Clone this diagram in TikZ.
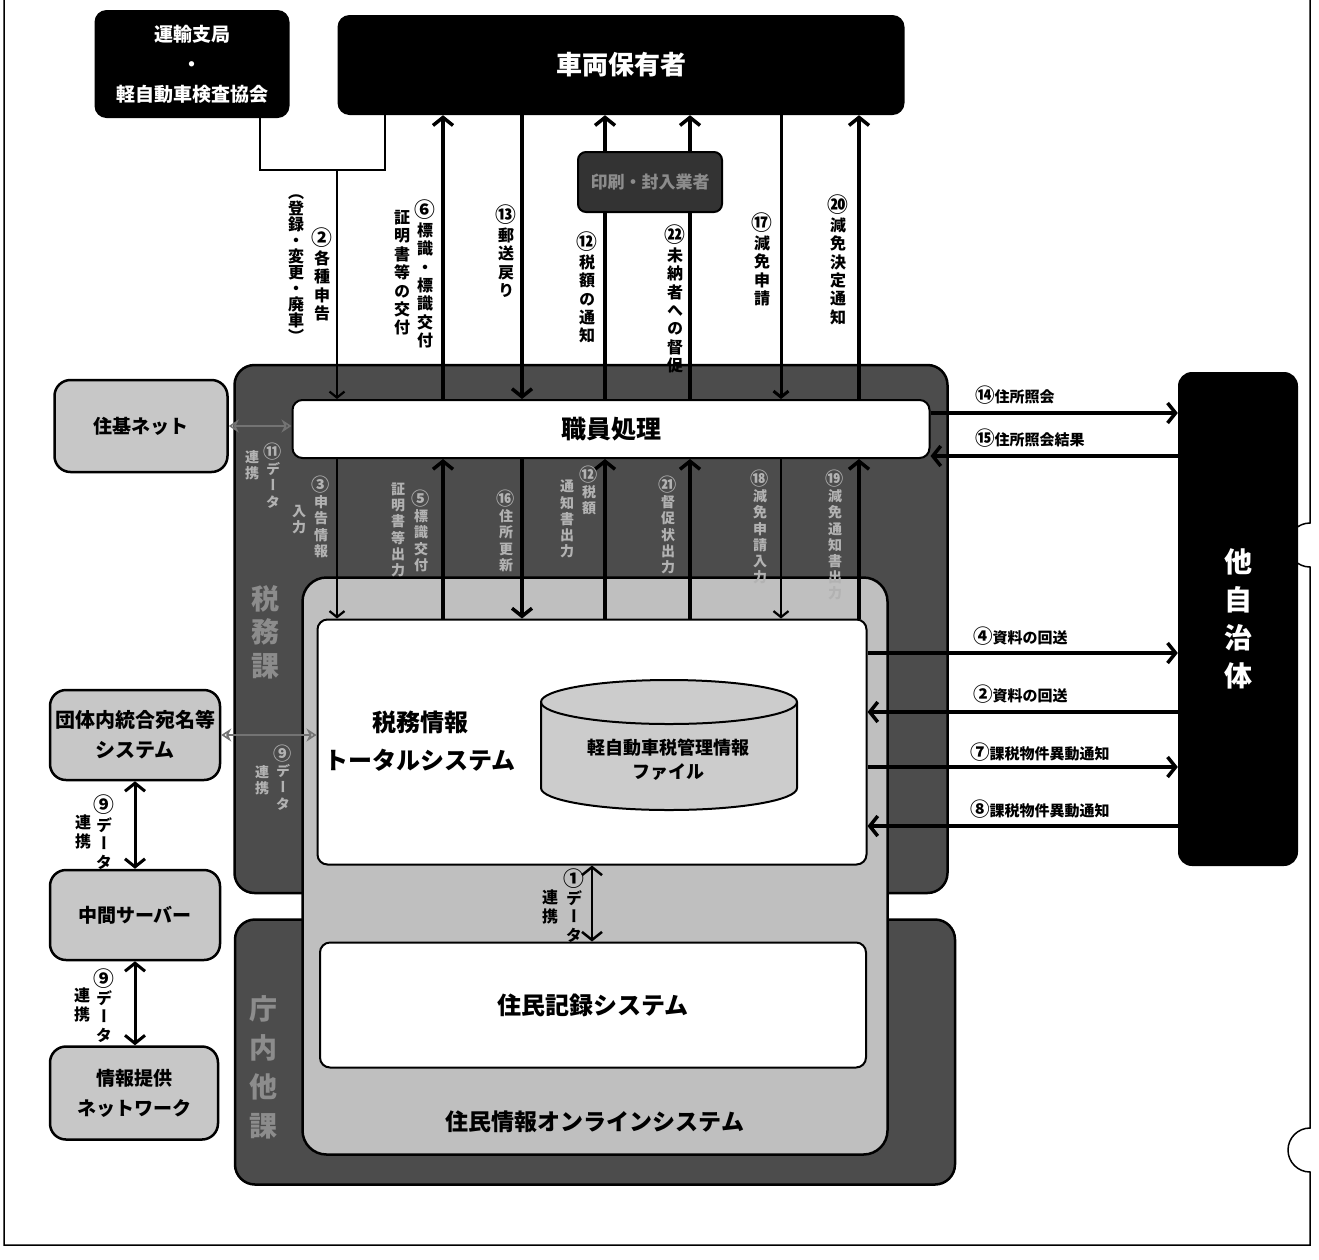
\documentclass[tikz,border=0pt]{standalone}
\usepackage{fontspec}
\setmainfont{Noto Sans CJK JP}
\newfontfamily\jpv{Noto Sans CJK JP}[RawFeature=+vert]
\usetikzlibrary{arrows.meta}

\newcommand\sz[2]{\fontsize{#1}{#2}\selectfont}
\newcommand\cn[1]{\scalebox{1.3}{#1}}
\makeatletter
\newcommand\tate[2][1.15em]{\vtop{\jpv\baselineskip=#1\relax\lineskiplimit=-\maxdimen\tate@#2\@nil}}
\def\tate@#1{\ifx#1\@nil\else\hbox to 1em{\hss#1\hss}\expandafter\tate@\fi}
\makeatother

\begin{document}
\begin{tikzpicture}[x=1pt, y=-1pt, >={Straight Barb[length=8pt,width=20pt]},
  blk/.style={fill=black, rounded corners=12pt, text=white, inner sep=0pt},
  lbox/.style={draw, line width=2.5pt, fill=black!22, rounded corners=16pt, inner sep=0pt},
  panel/.style={draw, line width=2.5pt, fill=black!70, rounded corners=20pt},
  wbox/.style={draw, line width=2pt, fill=white, rounded corners=10pt, inner sep=0pt},
  flow/.style={line width=3.5pt, ->},
  tflow/.style={line width=2.2pt, -{Straight Barb[length=6pt,width=15pt]}},
  link/.style={line width=3pt, <->},
  dlink/.style={line width=1.6pt, draw=black!55, {Stealth[open,length=10pt,width=13pt]}-{Stealth[open,length=10pt,width=13pt]}},
  vlbl/.style={font=\bfseries\sz{16}{18}, anchor=north, inner sep=0pt},
  dlbl/.style={font=\bfseries\sz{14}{16}, anchor=north, inner sep=0pt, text=black!30},
  hlbl/.style={font=\bfseries\sz{15}{18}, anchor=west, inner sep=0pt}]

\useasboundingbox (0,0) rectangle (1319,1259);
\fill[white] (0,0) rectangle (1319,1259);
\draw[line width=1.5pt] (4,0) -- (4,1245) -- (1310,1245) -- (1310,1172) arc[start angle=270, end angle=90, radius=22pt] -- (1310,567) arc[start angle=270, end angle=90, radius=22pt] -- (1310,0); %frame

% outside
\node[blk, minimum width=195, minimum height=108, font=\bfseries\sz{19}{30}, align=center] (unyu) at (192,64) {運輸支局\\・\\軽自動車検査協会};
\node[blk, minimum width=567, minimum height=100, font=\bfseries\sz{26}{30}] (hoyu) at (621,65) {車両保有者};
\node[blk, minimum width=120, minimum height=494, rounded corners=14pt, font=\bfseries\sz{28}{32}] (tajichi) at (1238,619) {\tate[1.35em]{他自治体}};

\node[lbox, minimum width=173, minimum height=92, font=\bfseries\sz{19}{24}] (jukinet) at (141,426) {住基ネット};
\node[lbox, minimum width=170, minimum height=90, align=center, font=\bfseries\sz{20}{30}] (dantai) at (135,735) {団体内統合宛名等\\システム};
\node[lbox, minimum width=170, minimum height=90, font=\bfseries\sz{19}{24}] (chukan) at (135,915) {中間サーバー};
\node[lbox, minimum width=168, minimum height=93, align=center, font=\bfseries\sz{19}{30}] (joho) at (134,1093) {情報提供\\ネットワーク};

% panels
\node[panel, minimum width=713, minimum height=528] (zeimu) at (591,629) {};
\node[panel, minimum width=720, minimum height=265] (chonai) at (595,1052) {};
\node[draw, line width=2.5pt, fill=black!25, rounded corners=24pt, minimum width=585, minimum height=577] (online) at (595,866) {};
\node[font=\bfseries\sz{23}{26}] (onlinelbl) at (595,1122) {住民情報オンラインシステム};
\node[font=\bfseries\sz{28}{32}, text=black!45, anchor=north, inner sep=0pt] (zeimulbl) at (265,585) {\tate[1.2em]{税務課}};
\node[font=\bfseries\sz{28}{32}, text=black!45, anchor=north, inner sep=0pt] (chonailbl) at (263,995) {\tate[1.4em]{庁内他課}};

\node[wbox, minimum width=637, minimum height=58, font=\bfseries\sz{25}{28}] (shokuin) at (611,429) {職員処理};
\node[wbox, minimum width=549, minimum height=245] (total) at (592,742) {};
\node[font=\bfseries\sz{24}{38}, align=center] (totallbl) at (420,741) {税務情報\\トータルシステム};
\node[wbox, minimum width=546, minimum height=125, font=\bfseries\sz{24}{28}] (jumin) at (593,1005) {住民記録システム};

% file
\filldraw[fill=black!20, line width=2pt] (541,702) -- (541,788) arc[start angle=180, end angle=360, x radius=128pt, y radius=22pt] -- (797,702) arc[start angle=0, end angle=180, x radius=128pt, y radius=22pt] -- cycle;
\draw[line width=2pt] (541,702) arc[start angle=180, end angle=360, x radius=128pt, y radius=22pt];
\node[font=\bfseries\sz{18}{24}, align=center] (dbfile) at (668,760) {軽自動車税管理情報\\ファイル};

% columns and rows
\foreach \n/\x in {k3/337, k6/443, k13/522, k12/605, k22/690, k17/781, k20/859} \coordinate (\n) at (\x,0);
\foreach \n/\y in {r14/413, r15/456, r4/653, r2/712, r7/767, r8/826} \coordinate (\n) at (0,\y);
\coordinate (bl) at (260,170);
\coordinate (br) at (385,170);
\coordinate (bm) at (337,170);

% top arrows
\draw[line width=2pt] (unyu.south -| bl) -- (bl) -- (br) -- (hoyu.south -| br);
\draw[tflow] (bm) -- (shokuin.north -| bm); %2
\draw[flow] (shokuin.north -| k6) -- (hoyu.south -| k6); %6
\draw[flow] (hoyu.south -| k13) -- (shokuin.north -| k13); %13
\draw[flow] (shokuin.north -| k12) -- (hoyu.south -| k12); %12
\draw[flow] (shokuin.north -| k22) -- (hoyu.south -| k22); %22
\draw[tflow, line width=3pt] (hoyu.south -| k17) -- (shokuin.north -| k17); %17
\draw[flow] (shokuin.north -| k20) -- (hoyu.south -| k20); %20
\node[draw, line width=2pt, fill=black!80, rounded corners=8pt, minimum width=144, minimum height=60, text=black!45, font=\bfseries\sz{17}{20}] (insatsu) at (650,182) {印刷・封入業者};

% lower arrows
\draw[tflow] (shokuin.south -| k3) -- (total.north -| k3); %3
\draw[flow] (total.north -| k6) -- (shokuin.south -| k6); %5
\draw[flow] (shokuin.south -| k13) -- (total.north -| k13); %16
\draw[flow] (total.north -| k12) -- (shokuin.south -| k12); %12
\draw[flow] (total.north -| k22) -- (shokuin.south -| k22); %21
\draw[tflow] (shokuin.south -| k17) -- (total.north -| k17); %18
\draw[flow] (total.north -| k20) -- (shokuin.south -| k20); %19

% right arrows
\draw[flow] (shokuin.east |- r14) -- (tajichi.west |- r14);
\draw[flow] (tajichi.west |- r15) -- (shokuin.east |- r15);
\draw[flow] (total.east |- r4) -- (tajichi.west |- r4);
\draw[flow] (tajichi.west |- r2) -- (total.east |- r2);
\draw[flow] (total.east |- r7) -- (tajichi.west |- r7);
\draw[flow] (tajichi.west |- r8) -- (total.east |- r8);

% data links
\draw[dlink] (jukinet.east) -- (jukinet.east -| shokuin.west);
\draw[dlink] (dantai.east) -- (dantai.east -| total.west);
\draw[link] (dantai.south) -- (chukan.north);
\draw[link] (chukan.south) -- (chukan.south |- joho.north);
\draw[link, line width=2.5pt] (total.south) -- (total.south |- jumin.north);

% labels top
\node[vlbl] (l2) at (322,228) {\tate{{\cn②}各種申告}};
\node[vlbl] (l2b) at (296,195) {\tate[1.0em]{（登録・変更・廃車）}};
\node[vlbl] (l6) at (425,200) {\tate{{\cn⑥}標識・標識交付}};
\node[vlbl] (l6b) at (402,210) {\tate{証明書等の交付}};
\node[vlbl] (l13) at (506,205) {\tate{{\cn⑬}郵送戻り}};
\node[vlbl] (l12) at (587,232) {\tate{{\cn⑫}税額の通知}};
\node[vlbl] (l22) at (675,225) {\tate{{\cn㉒}未納者への督促}};
\node[vlbl] (l17) at (762,213) {\tate{{\cn⑰}減免申請}};
\node[vlbl] (l20) at (838,195) {\tate{{\cn⑳}減免決定通知}};

% labels in the panel
\node[dlbl] (l11) at (273,443) {\tate{{\cn⑪}データ}};
\node[dlbl] (l11b) at (252,450) {\tate{連携}};
\node[dlbl] (l3) at (321,476) {\tate{{\cn③}申告情報}};
\node[dlbl] (l3b) at (299,505) {\tate{入力}};
\node[dlbl] (l5) at (421,490) {\tate{{\cn⑤}標識交付}};
\node[dlbl] (l5b) at (398,483) {\tate{証明書等出力}};
\node[dlbl] (l16) at (506,490) {\tate{{\cn⑯}住所更新}};
\node[dlbl] (l12b) at (589,466) {\tate{{\cn⑫}税額}};
\node[dlbl] (l12c) at (567,480) {\tate{通知書出力}};
\node[dlbl] (l21) at (668,476) {\tate{{\cn㉑}督促状出力}};
\node[dlbl] (l18) at (760,470) {\tate{{\cn⑱}減免申請入力}};
\node[dlbl] (l19) at (835,470) {\tate{{\cn⑲}減免通知書出力}};
\node[dlbl] (l9d) at (283,745) {\tate{{\cn⑨}データ}};
\node[dlbl] (l9e) at (262,765) {\tate{連携}};

% labels of links
\node[vlbl] (l9a) at (104,795) {\tate{{\cn⑨}データ}};
\node[vlbl] (l9b) at (83,815) {\tate{連携}};
\node[vlbl] (l9c) at (104,968) {\tate{{\cn⑨}データ}};
\node[vlbl] (l9f) at (82,988) {\tate{連携}};
\node[vlbl] (l1) at (574,868) {\tate{{\cn①}データ}};
\node[vlbl] (l1b) at (550,890) {\tate{連携}};

% labels right
\node[hlbl] (r14l) at (975,395) {\cn⑭住所照会};
\node[hlbl] (r15l) at (975,438) {\cn⑮住所照会結果};
\node[hlbl] (r4l) at (973,636) {\cn④資料の回送};
\node[hlbl] (r2l) at (973,694) {\cn②資料の回送};
\node[hlbl] (r7l) at (970,752) {\cn⑦課税物件異動通知};
\node[hlbl] (r8l) at (970,809) {\cn⑧課税物件異動通知};

\end{tikzpicture}
\end{document}
